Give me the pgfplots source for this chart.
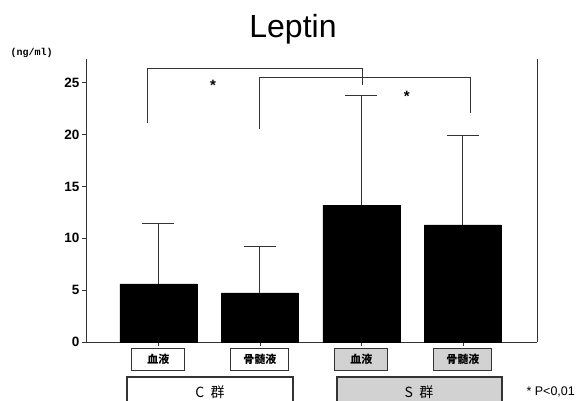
\documentclass[border=0pt]{standalone}
\usepackage{pgfplots}
\pgfplotsset{compat=1.18}
\usepackage{fontspec}
\setmainfont{Liberation Sans}
\newfontfamily\jpfont{Noto Sans CJK JP}
\newfontfamily\unitfont{Liberation Mono}
\definecolor{boxgray}{HTML}{D2D2D2}
\definecolor{linegray}{HTML}{333333}

\begin{document}
\begin{tikzpicture}
\useasboundingbox (0pt,0pt) rectangle (583pt,-401pt);
% title and unit
\node[font=\fontsize{32}{34}\selectfont] at (293pt,-29pt) {Leptin};
\node[font=\unitfont\bfseries\fontsize{10}{12}\selectfont, anchor=west] at (7pt,-53pt) {(ng/ml)};
\begin{axis}[
  at={(86pt,-342pt)}, anchor=south west,
  scale only axis, width=451pt, height=283pt,
  xmin=0.286, xmax=4.73, ymin=0, ymax=27.3,
  axis x line*=bottom, axis y line*=left,
  axis line style={linegray, line width=0.9pt, -},
  ytick={0,5,10,15,20,25},
  xtick={1,2,3,4}, xticklabels={},
  tick align=outside, major tick length=4pt,
  tick style={linegray, line width=0.8pt},
  yticklabel style={font=\bfseries\fontsize{13.5}{15}\selectfont, xshift=1pt},
  /pgf/number format/assume math mode=true,
  clip=false,
]
% group means with upper SD
\addplot[ybar, bar width=77pt, fill=black, draw=black,
  error bars/.cd, y dir=plus, y explicit,
  error bar style={linegray, line width=0.9pt},
  error mark options={rotate=90, mark size=16pt, line width=0.9pt, linegray}]
  coordinates {
    (1,5.6)  +- (0,5.8)
    (2,4.75) +- (0,4.45)
    (3,13.2) +- (0,10.6)
    (4,11.3) +- (0,8.6)
  };
% right frame line
\draw[linegray, line width=0.9pt] (rel axis cs:1,0) -- (rel axis cs:1,1);
% significance brackets
\draw[linegray, line width=0.8pt] (axis cs:0.887,21.1) |- (axis cs:3.005,26.35) -- (axis cs:3.005,24.8);
\node[font=\bfseries\fontsize{15}{16}\selectfont] at (axis cs:1.537,24.8) {*};
\draw[linegray, line width=0.8pt] (axis cs:1.99,20.5) |- (axis cs:4.07,25.5) -- (axis cs:4.07,22.1);
\node[font=\bfseries\fontsize{15}{16}\selectfont] at (axis cs:3.448,23.7) {*};
% sample labels
\tikzset{samp/.style={draw=linegray, line width=1pt, minimum height=22pt, inner sep=0pt,
  font=\jpfont\bfseries\fontsize{11}{12}\selectfont}}
\node[samp, fill=white, minimum width=53pt] at ([yshift=-17pt]axis cs:1,0) {血液};
\node[samp, fill=white, minimum width=58pt] at ([yshift=-17pt]axis cs:2,0) {骨髄液};
\node[samp, fill=boxgray, minimum width=53pt] at ([yshift=-17pt]axis cs:3,0) {血液};
\node[samp, fill=boxgray, minimum width=58pt] at ([yshift=-17pt]axis cs:4,0) {骨髄液};
\end{axis}
% group boxes
\draw[linegray, line width=1.4pt, fill=white] (127pt,-410pt) rectangle (293pt,-377pt);
\node[font=\jpfont\fontsize{14}{16}\selectfont] at (210pt,-392pt) {C\ \ 群};
\draw[linegray, line width=1.4pt, fill=boxgray] (337pt,-410pt) rectangle (502pt,-377pt);
\node[font=\jpfont\fontsize{14}{16}\selectfont] at (419pt,-392pt) {S\ \ 群};
\node[font=\fontsize{12.5}{14}\selectfont, anchor=west] at (523pt,-392pt) {* P<0,01};
\end{tikzpicture}
\end{document}
